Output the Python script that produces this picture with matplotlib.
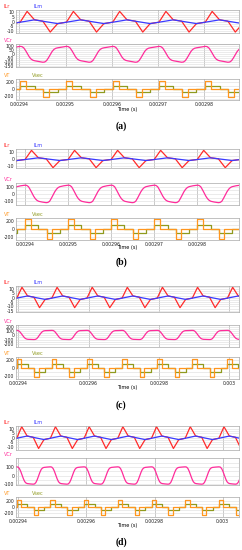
"""
Four stacked simulation captures (a)-(d): resonant/magnetizing currents,
resonant capacitor voltage and transformer / secondary voltages.
"""

import numpy as np
import matplotlib
matplotlib.use("Agg")
from matplotlib import pyplot as plt

# ---- one switching period (phase 0..1) ----
ILR_PH = [0.0, 0.15, 0.31, 0.49, 0.65, 0.81, 1.0]
ILM_PH = [0.0, 0.31, 0.81, 1.0]
VCR_PH = [0.0, 0.04, 0.08, 0.12, 0.16, 0.20, 0.24, 0.28, 0.32, 0.40, 0.49,
          0.53, 0.57, 0.61, 0.65, 0.69, 0.73, 0.77, 0.81, 0.90, 1.0]
VT_PH = [0.0, 0.13, 0.50, 0.63, 1.0]
VSEC_PH = [0.0, 0.31, 0.50, 0.81, 1.0]

# panel (a)
A_ILR = [-0.5, 11, 2, 0.6, -11, -2, -0.5]
A_ILM = [-0.5, 2, -2, -0.5]
A_VCR = [100, 97, 80, 45, 5, -35, -62, -76, -82, -90, -100,
         -97, -80, -45, -5, 35, 62, 76, 82, 90, 100]
A_VT = [240, 0, -240, 0, 0]
A_VSEC = [100, 0, -100, 0, 0]

# panel (b)
B_ILR = [-0.5, 13, 2, 0.6, -12.5, -2, -0.5]
B_ILM = [-0.5, 2, -2, -0.5]
B_VCR = [120, 117, 100, 60, 15, -30, -65, -88, -100, -110, -118,
         -115, -100, -60, -15, 30, 65, 88, 100, 112, 120]
B_VT = [250, 0, -250, 0, 0]
B_VSEC = [100, 0, -100, 0, 0]

# panel (c)
C_ILR = [-0.5, 12, 2, 0.6, -11.5, -2, -0.5]
C_ILM = [-0.5, 2, -2, -0.5]
C_VCR = [120, 117, 95, 55, 10, -35, -70, -88, -95, -98, -100,
         -97, -80, -40, 10, 55, 90, 108, 114, 118, 120]
C_VT = [250, 0, -250, 0, 0]
C_VSEC = [100, 0, -100, 0, 0]

# panel (d)
D_ILR = [-0.5, 12.5, 2, 0.6, -12, -2, -0.5]
D_ILM = [-0.5, 2, -2, -0.5]
D_VCR = [105, 102, 85, 50, 5, -40, -75, -92, -98, -102, -105,
         -102, -85, -50, -5, 40, 75, 92, 98, 102, 105]
D_VT = [240, 0, -260, 0, 0]
D_VSEC = [100, 0, -100, 0, 0]

# time axes
A_T0, A_PER, A_XLIM = 0.0029402, 1.0e-5, (0.0029393, 0.0029875)
B_T0, B_PER, B_XLIM = 0.0029400, 1.0e-5, (0.0029379, 0.0029897)
C_T0, C_PER, C_XLIM = 0.0029395, 1.0e-5, (0.0029393, 0.0030028)
D_T0, D_PER, D_XLIM = 0.0029395, 0.99e-5, (0.0029393, 0.0030048)

AB_XTICKS = [0.00294, 0.00295, 0.00296, 0.00297, 0.00298]
AB_XLABELS = ["0.00294", "0.00295", "0.00296", "0.00297", "0.00298"]
CD_XTICKS = [0.00294, 0.00296, 0.00298, 0.00300]
CD_XLABELS = ["0.00294", "0.00296", "0.00298", "0.003"]

C_RED = "#ff2b2b"
C_BLUE = "#3a3aff"
C_PINK = "#ff2d9b"
C_ORANGE = "#ff961e"
C_OLIVE = "#8f9a1e"

W, H = 242, 550


def tile(phase, vals, t0, period, xlim):
    """repeat one period of read-off points over the visible window"""
    k0 = int(np.floor((xlim[0] - t0) / period)) - 1
    k1 = int(np.ceil((xlim[1] - t0) / period)) + 1
    ts, vs = [], []
    for k in range(k0, k1):
        ts.extend(t0 + (k + np.asarray(phase[:-1])) * period)
        vs.extend(vals[:-1])
    return np.array(ts), np.array(vs)


def box(y_top, y_bot, x0=16, x1=239):
    return [x0 / W, 1 - y_bot / H, (x1 - x0) / W, (y_bot - y_top) / H]


def style(ax, xlim, xticks, ylim, yticks, yminor, last=False, xlabels=None):
    ax.set_xlim(*xlim)
    ax.set_ylim(*ylim)
    ax.set_xticks(xticks)
    ax.set_yticks(yticks)
    ax.set_yticks(yminor, minor=True)
    ax.grid(axis="x", which="major", color="#b4b4b4", lw=0.5)
    ax.grid(axis="y", which="both", color="#dcdcdc", lw=0.4)
    ax.set_axisbelow(True)
    for s in ax.spines.values():
        s.set_color("#a8a8a8")
        s.set_linewidth(0.5)
    ax.tick_params(axis="both", which="both", length=0, labelsize=3.3,
                   pad=1.2, colors="#222222")
    ax.set_yticklabels([str(v) for v in yticks])
    if last:
        ax.set_xticklabels(xlabels)
    else:
        ax.tick_params(axis="x", labelbottom=False)


def draw_panel(fig, tops, t0, per, xlim, xticks, xlabels, ilr, ilm, vcr, vt, vsec,
               ylims, letter, letter_y, time_y):
    (y1, y2), (y3, y4), (y5, y6) = tops
    ax1 = fig.add_axes(box(y1, y2))
    ax2 = fig.add_axes(box(y3, y4))
    ax3 = fig.add_axes(box(y5, y6))

    t, v = tile(ILR_PH, ilr, t0, per, xlim)
    ax1.plot(t, v, color=C_RED, lw=0.9)
    t, v = tile(ILM_PH, ilm, t0, per, xlim)
    ax1.plot(t, v, color=C_BLUE, lw=0.9)
    t, v = tile(VCR_PH, vcr, t0, per, xlim)
    ax2.plot(t, v, color=C_PINK, lw=0.9)
    t, v = tile(VSEC_PH, vsec, t0, per, xlim)
    ax3.plot(t, v, color=C_OLIVE, lw=0.9, drawstyle="steps-post")
    t, v = tile(VT_PH, vt, t0, per, xlim)
    ax3.plot(t, v, color=C_ORANGE, lw=0.9, drawstyle="steps-post")

    for ax, (lim, ticks, minor) in zip((ax1, ax2, ax3), ylims):
        style(ax, xlim, xticks, lim, ticks, minor, last=(ax is ax3), xlabels=xlabels)

    # trace names above each plot
    fs = 3.6
    fig.text(4 / W, 1 - (y1 - 3.5) / H, "ILr", color=C_RED, fontsize=fs, va="center")
    fig.text(33 / W, 1 - (y1 - 3.5) / H, "ILm", color=C_BLUE, fontsize=fs, va="center")
    fig.text(4 / W, 1 - (y3 - 3.5) / H, "VCr", color=C_PINK, fontsize=fs, va="center")
    fig.text(4 / W, 1 - (y5 - 3.5) / H, "VT", color=C_ORANGE, fontsize=fs, va="center")
    fig.text(32 / W, 1 - (y5 - 3.5) / H, "Vsec", color=C_OLIVE, fontsize=fs, va="center")
    fig.text(127 / W, 1 - time_y / H, "Time (s)", fontsize=fs, ha="center", va="center")
    fig.text(121 / W, 1 - letter_y / H, letter, fontsize=7, ha="center", va="center",
             family="Liberation Serif", weight="bold")


fig = plt.figure(figsize=(W / 100, H / 100), dpi=100)

draw_panel(fig, [(10, 33), (44, 67), (79, 100)], A_T0, A_PER, A_XLIM,
           AB_XTICKS, AB_XLABELS, A_ILR, A_ILM, A_VCR, A_VT, A_VSEC,
           [((-12, 12.5), [-10, -5, 0, 5, 10], [-7.5, -2.5, 2.5, 7.5]),
            ((-160, 130), [-150, -100, -50, 0, 50, 100], [-125, -75, -25, 25, 75, 125]),
            ((-320, 290), [-200, 0, 200], [-300, -100, 100])],
           "(a)", 126, 110)

draw_panel(fig, [(149, 168), (183, 205), (218, 240)], B_T0, B_PER, B_XLIM,
           AB_XTICKS, AB_XLABELS, B_ILR, B_ILM, B_VCR, B_VT, B_VSEC,
           [((-13, 15), [-10, 0, 10], [-5, 5]),
            ((-150, 150), [-100, 0, 100], [-50, 50]),
            ((-280, 272), [-200, 0, 200], [-100, 100])],
           "(b)", 262, 247.5)

draw_panel(fig, [(286, 312), (325, 347), (357, 379)], C_T0, C_PER, C_XLIM,
           CD_XTICKS, CD_XLABELS, C_ILR, C_ILM, C_VCR, C_VT, C_VSEC,
           [((-16.5, 13.5), [-15, -10, -5, 0, 5, 10], [-12.5, -7.5, -2.5, 2.5, 7.5, 12.5]),
            ((-280, 250), [-200, -100, 0, 100, 200], [-150, -50, 50, 150]),
            ((-290, 290), [-200, 0, 200], [-100, 100])],
           "(c)", 405, 388)

draw_panel(fig, [(426, 450), (458, 485), (497, 517)], D_T0, D_PER, D_XLIM,
           CD_XTICKS, CD_XLABELS, D_ILR, D_ILM, D_VCR, D_VT, D_VSEC,
           [((-13.7, 13.3), [-10, -5, 0, 5, 10], [-7.5, -2.5, 2.5, 7.5]),
            ((-115, 212), [-100, 0, 100], [-50, 50, 150]),
            ((-320, 320), [-200, 0, 200], [-100, 100])],
           "(d)", 542, 526)

fig.savefig("out.png", dpi=100)
plt.close(fig)
